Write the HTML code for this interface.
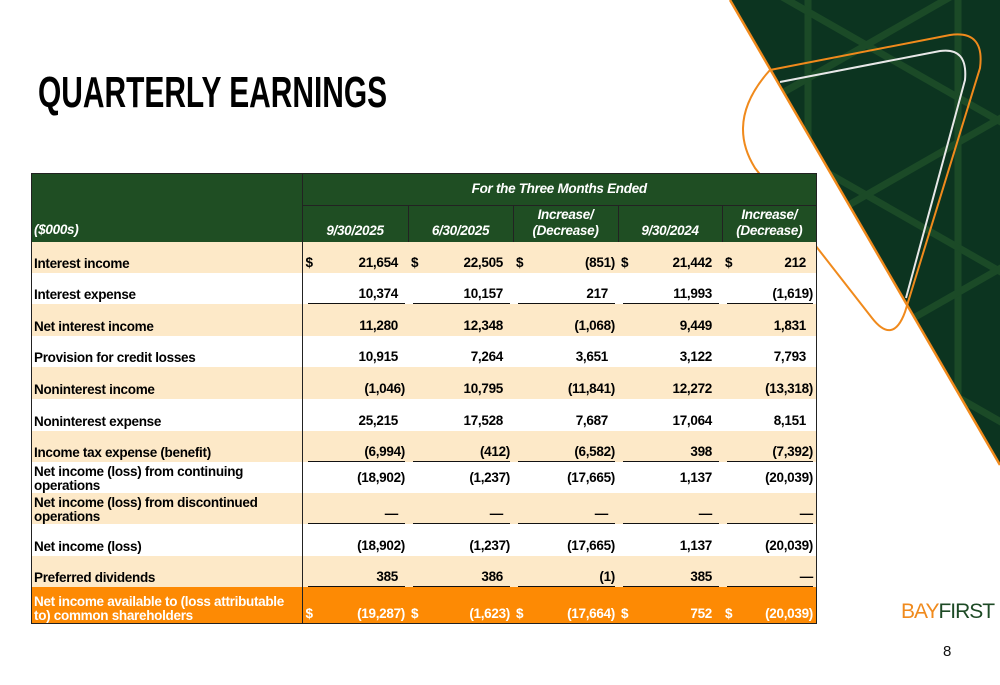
<!DOCTYPE html>
<html><head><meta charset="utf-8">
<style>
*{margin:0;padding:0;box-sizing:border-box}
body{width:1000px;height:685px;background:#fff;position:relative;overflow:hidden;font-family:"Liberation Sans",sans-serif}
#deco{position:absolute;left:0;top:0}
#title{position:absolute;left:38px;top:68px;font-size:44px;font-weight:bold;color:#000;white-space:nowrap;transform-origin:0 0}
table{position:absolute;left:31px;top:173px;border-collapse:collapse;table-layout:fixed;width:785px;font-weight:bold;font-size:13.5px;letter-spacing:-0.3px;color:#000}
td{padding:0;vertical-align:bottom;white-space:nowrap;position:relative}
td.lab{padding-left:3px;line-height:14px;padding-bottom:2px;border-right:1.5px solid #222}
td.num{text-align:right;padding-bottom:3px}
td.pos{padding-right:10px}
td.neg{padding-right:3px}
.dol{position:absolute;left:3px;bottom:3px}
tr.b td{background:#fde9c8}
tr.w td{background:#fff}
tr.o td{background:#fd8a04;color:#fff}
.hd td{background:#1f4e23;color:#fff;font-style:italic;text-align:center;line-height:16px}
.ul td.num::after{content:"";position:absolute;left:5px;right:3px;bottom:0;height:0;border-bottom:1.5px solid #111}
#frame{position:absolute;left:31px;top:173px;width:786px;height:451px;border:1.5px solid #222;pointer-events:none}
#logo{position:absolute;left:901px;top:600px;font-family:"Liberation Sans",sans-serif;font-size:21px;letter-spacing:-1px;white-space:nowrap}
#pg{position:absolute;left:943px;top:643px;font-family:"Liberation Sans",sans-serif;font-size:15px;color:#111}
</style></head><body>
<svg id="deco" width="1000" height="685">
<defs><clipPath id="tri"><polygon points="730,0 1000,0 1000,465"/></clipPath></defs>
<polygon points="730,0 1000,0 1000,465" fill="#0c3420"/>
<g clip-path="url(#tri)" stroke="#1b4a27" stroke-width="7" fill="none">
<line x1="808" y1="0" x2="808" y2="470"/><line x1="958" y1="0" x2="958" y2="470"/>
<line x1="700" y1="-50" x2="1050" y2="150"/><line x1="700" y1="100" x2="1050" y2="300"/><line x1="700" y1="250" x2="1050" y2="450"/>
<line x1="1050" y1="-60" x2="700" y2="140"/><line x1="1050" y1="90" x2="700" y2="290"/><line x1="1050" y1="240" x2="700" y2="440"/>
</g>
<line x1="730" y1="0" x2="1000" y2="465" stroke="#f08a1c" stroke-width="2.5"/>
<path d="M770,70 L950,35 Q985,30 980,68 L905,312 Q893,345 872,318 L755,168 Q725,120 770,70 Z" fill="none" stroke="#f08a1c" stroke-width="2"/>
<path d="M780,82 L940,51 Q968,47 965,80 L906,298" fill="none" stroke="#e8e8e8" stroke-width="2" clip-path="url(#tri)"/>
</svg>
<div id="title" style="transform:scaleX(0.68)">QUARTERLY EARNINGS</div>
<table>
<colgroup><col style="width:271px"><col style="width:106px"><col style="width:105px"><col style="width:105px"><col style="width:104px"><col style="width:94px"></colgroup>
<tr class="hd" style="height:32px"><td rowspan="2" style="text-align:left;padding-left:3px;padding-bottom:4px;border-right:1.5px solid #222;font-style:italic">($000s)</td><td colspan="5" style="vertical-align:middle;border-bottom:1.5px solid #222">For the Three Months Ended</td></tr>
<tr class="hd" style="height:37px"><td style="padding-bottom:3px;border-right:1.5px solid #222">9/30/2025</td><td style="padding-bottom:3px;border-right:1.5px solid #222">6/30/2025</td><td style="padding-bottom:3px;border-right:1.5px solid #222">Increase/<br>(Decrease)</td><td style="padding-bottom:3px;border-right:1.5px solid #222">9/30/2024</td><td style="padding-bottom:3px">Increase/<br>(Decrease)</td></tr>
<tr class="b" style="height:31px"><td class="lab">Interest income</td><td class="num pos"><span class="dol">$</span>21,654</td><td class="num pos"><span class="dol">$</span>22,505</td><td class="num neg"><span class="dol">$</span>(851)</td><td class="num pos"><span class="dol">$</span>21,442</td><td class="num pos"><span class="dol">$</span>212</td></tr>
<tr class="w ul" style="height:31px"><td class="lab">Interest expense</td><td class="num pos">10,374</td><td class="num pos">10,157</td><td class="num pos">217</td><td class="num pos">11,993</td><td class="num neg">(1,619)</td></tr>
<tr class="b" style="height:32px"><td class="lab">Net interest income</td><td class="num pos">11,280</td><td class="num pos">12,348</td><td class="num neg">(1,068)</td><td class="num pos">9,449</td><td class="num pos">1,831</td></tr>
<tr class="w" style="height:31px"><td class="lab">Provision for credit losses</td><td class="num pos">10,915</td><td class="num pos">7,264</td><td class="num pos">3,651</td><td class="num pos">3,122</td><td class="num pos">7,793</td></tr>
<tr class="b" style="height:32px"><td class="lab">Noninterest income</td><td class="num neg">(1,046)</td><td class="num pos">10,795</td><td class="num neg">(11,841)</td><td class="num pos">12,272</td><td class="num neg">(13,318)</td></tr>
<tr class="w" style="height:32px"><td class="lab">Noninterest expense</td><td class="num pos">25,215</td><td class="num pos">17,528</td><td class="num pos">7,687</td><td class="num pos">17,064</td><td class="num pos">8,151</td></tr>
<tr class="b ul" style="height:31px"><td class="lab">Income tax expense (benefit)</td><td class="num neg">(6,994)</td><td class="num neg">(412)</td><td class="num neg">(6,582)</td><td class="num pos">398</td><td class="num neg">(7,392)</td></tr>
<tr class="w" style="height:31px"><td class="lab" style="padding-bottom:0">Net income (loss) from continuing<br>operations</td><td class="num neg" style="vertical-align:middle;padding-bottom:0">(18,902)</td><td class="num neg" style="vertical-align:middle;padding-bottom:0">(1,237)</td><td class="num neg" style="vertical-align:middle;padding-bottom:0">(17,665)</td><td class="num pos" style="vertical-align:middle;padding-bottom:0">1,137</td><td class="num neg" style="vertical-align:middle;padding-bottom:0">(20,039)</td></tr>
<tr class="b ul" style="height:31px"><td class="lab" style="padding-bottom:0">Net income (loss) from discontinued<br>operations</td><td class="num pos">—</td><td class="num pos">—</td><td class="num pos">—</td><td class="num pos">—</td><td class="num neg">—</td></tr>
<tr class="w" style="height:32px"><td class="lab">Net income (loss)</td><td class="num neg">(18,902)</td><td class="num neg">(1,237)</td><td class="num neg">(17,665)</td><td class="num pos">1,137</td><td class="num neg">(20,039)</td></tr>
<tr class="b ul" style="height:31px"><td class="lab">Preferred dividends</td><td class="num pos">385</td><td class="num pos">386</td><td class="num neg">(1)</td><td class="num pos">385</td><td class="num neg">—</td></tr>
<tr class="o" style="height:37px"><td class="lab" style="padding-bottom:1px">Net income available to (loss attributable<br>to) common shareholders</td><td class="num neg"><span class="dol">$</span>(19,287)</td><td class="num neg"><span class="dol">$</span>(1,623)</td><td class="num neg"><span class="dol">$</span>(17,664)</td><td class="num pos"><span class="dol">$</span>752</td><td class="num neg"><span class="dol">$</span>(20,039)</td></tr>
</table>
<div id="frame"></div>
<div id="logo"><span style="color:#f08a1c">BAY</span><span style="color:#1d4a25">FIRST</span></div>
<div id="pg">8</div>
</body></html>
